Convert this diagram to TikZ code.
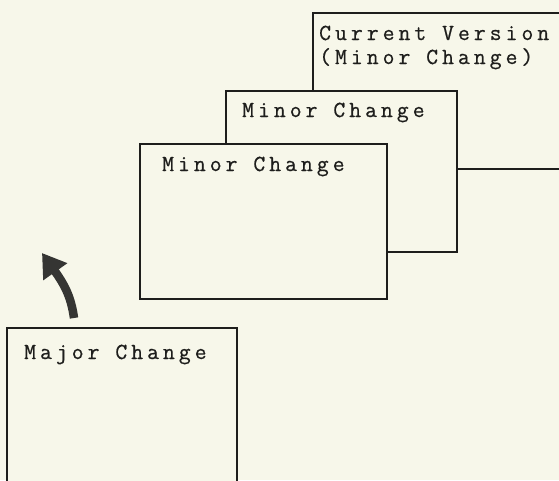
\documentclass[tikz,border=0pt]{standalone}
\usepackage{fontspec}
\usetikzlibrary{arrows.meta}
\newfontfamily\typewriter{Latin Modern Mono}[LetterSpace=17.5, FakeBold=0.6]
\definecolor{paper}{HTML}{F7F7EA}
\definecolor{ink}{HTML}{1E1E1C}
\tikzset{
  sheet/.style={draw=ink, line width=2pt, fill=paper, anchor=north west, inner sep=0pt},
  caption/.style={anchor=base west, inner sep=0pt, text=ink,
    font=\typewriter\fontsize{23}{24}\selectfont, align=left},
  bigarrow/.style={draw=ink!90, line width=8.5pt,
    -{Triangle[length=23pt, width=28pt]}}
}
\begin{document}
\begin{tikzpicture}[x=1pt, y=-1pt]
  \fill[paper] (0,0) rectangle (559,480);
  \useasboundingbox (0,0) rectangle (559,480);
  \clip (0,0) rectangle (559,480);

  % stacked version sheets, drawn back to front
  \node[sheet, minimum width=300pt, minimum height=156pt] (cur) at (312,12) {};
  \node[caption] (curtext) at (319,40) {Current Version};
  \node[caption] (curnote) at (319,64) {(Minor Change)};

  \node[sheet, minimum width=231pt, minimum height=161pt] (mid) at (225,90) {};
  \node[caption] (midtext) at (242,117) {Minor Change};

  \node[sheet, minimum width=247pt, minimum height=155pt] (front) at (139,143) {};
  \node[caption] (fronttext) at (162,171) {Minor Change};

  \node[sheet, minimum width=230pt, minimum height=200pt] (major) at (6,327) {};
  \node[caption] (majortext) at (24,359) {Major Change};

  % curved arrow rising from the major change
  \coordinate (tail) at (74,318);
  \coordinate (tip) at (42,253);
  \draw[bigarrow] (tail) .. controls (71,296) and (64,284) .. (tip);
\end{tikzpicture}
\end{document}
